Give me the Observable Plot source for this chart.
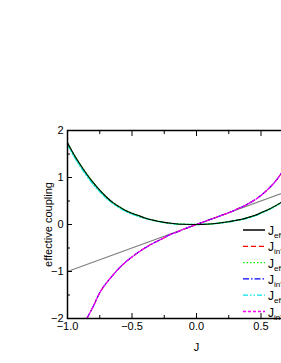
<!DOCTYPE html>
<html><head><meta charset="utf-8">
<script src="https://cdn.jsdelivr.net/npm/d3@7"></script>
<script src="https://cdn.jsdelivr.net/npm/@observablehq/plot@0.6"></script>
<style>
html,body{margin:0;padding:0;background:#fff;overflow:hidden;width:281px;height:363px;}
#wrap{position:relative;width:281px;height:363px;overflow:hidden;font-family:"Liberation Sans",Arial,sans-serif;}
#legend{position:absolute;left:0;top:0;width:281px;height:363px;pointer-events:none;}
</style></head>
<body><div id="wrap"><svg id="legend"></svg></div>
<script>
// ---- data ----
const J = [-1,-0.95,-0.9,-0.85,-0.8,-0.75,-0.7,-0.65,-0.6,-0.55,-0.5,-0.45,-0.4,-0.35,-0.3,-0.25,-0.2,-0.15,-0.1,-0.05,0,0.05,0.1,0.15,0.2,0.25,0.3,0.35,0.4,0.45,0.5,0.55,0.6,0.65,0.7];
const Jeff = [1.74,1.49,1.27,1.07,0.89,0.73,0.59,0.47,0.38,0.30,0.24,0.19,0.14,0.10,0.07,0.045,0.025,0.012,0.005,0.001,0,0.002,0.01,0.022,0.04,0.06,0.085,0.11,0.15,0.19,0.25,0.31,0.38,0.46,0.55];
const JeffC = [1.71,1.45,1.23,1.03,0.85,0.70,0.56,0.45,0.36,0.28,0.22,0.175,0.13,0.095,0.065,0.04,0.022,0.01,0.004,0.001,0,0.002,0.009,0.02,0.037,0.056,0.08,0.105,0.14,0.18,0.24,0.30,0.37,0.45,0.54];
const Jin = [null,null,null,-2.0,-1.74,-1.45,-1.25,-1.085,-0.93,-0.80,-0.69,-0.59,-0.50,-0.42,-0.35,-0.28,-0.21,-0.16,-0.10,-0.05,0,0.05,0.1,0.15,0.2,0.25,0.31,0.37,0.44,0.52,0.62,0.74,0.88,1.06,1.28];
const refJ = [-1, 1];
const refY = [-1, 1];
const xTicks = [-1, -0.5, 0, 0.5, 1];
const xMinor = [-0.75, -0.25, 0.25, 0.75];
const yTicks = [-2, -1, 0, 1, 2];
const yMinor = [-1.5, -0.5, 0.5, 1.5];
const seriesNames = ["eff", "in'", "eff", "in'", "eff", "in'"];
const seriesColors = ["#000000", "#ff0000", "#00ee00", "#0000ff", "#00e5e5", "#ff00ff"];
const seriesDash = [null, "5,3", "1.5,2", "6,2,1.5,2", "5,2,1.5,2,1.5,2", "3,2"];

const effData = J.map((j, i) => ({J: j, v: Jeff[i]}));
const effCData = J.map((j, i) => ({J: j, v: JeffC[i]}));
const inData = J.map((j, i) => ({J: j, v: Jin[i]})).filter(d => d.v !== null);
const refData = refJ.map((j, i) => ({J: j, v: refY[i]}));

const font = '"Liberation Sans", Arial, sans-serif';
const chart = Plot.plot({
  width: 345, height: 363,
  marginLeft: 67, marginRight: 20, marginTop: 130, marginBottom: 45,
  style: {fontFamily: font, fontSize: "11px", color: "#000", background: "transparent", overflow: "visible", maxWidth: "none"},
  x: {domain: [-1, 1]},
  y: {domain: [-2, 2]},
  marks: [
    Plot.line(refData, {x: "J", y: "v", stroke: "#808080", strokeWidth: 1.2, clip: true}),
    Plot.line(effCData, {x: "J", y: "v", stroke: seriesColors[4], strokeWidth: 1.4, strokeDasharray: seriesDash[4], curve: "monotone-x", clip: true}),
    Plot.line(effData, {x: "J", y: "v", stroke: seriesColors[2], strokeWidth: 1.3, strokeDasharray: seriesDash[2], curve: "monotone-x", clip: true}),
    Plot.line(inData, {x: "J", y: "v", stroke: seriesColors[1], strokeWidth: 1.1, strokeDasharray: seriesDash[1], curve: "monotone-x", clip: true}),
    Plot.line(inData, {x: "J", y: "v", stroke: seriesColors[3], strokeWidth: 1.1, strokeDasharray: seriesDash[3], curve: "monotone-x", clip: true}),
    Plot.line(inData, {x: "J", y: "v", stroke: seriesColors[5], strokeWidth: 1.2, strokeDasharray: seriesDash[5], curve: "monotone-x", clip: true}),
    Plot.line(effData, {x: "J", y: "v", stroke: seriesColors[0], strokeWidth: 1.1, curve: "monotone-x", clip: true}),
    Plot.axisX({ticks: xTicks, tickSize: -5, tickPadding: 9, tickFormat: d3.format(".1f"), label: "J", labelAnchor: "center", labelOffset: 32, labelArrow: "none"}),
    Plot.axisX({ticks: xMinor, tickSize: -3, tickFormat: () => "", label: null}),
    Plot.axisX({anchor: "top", ticks: xTicks, tickSize: -5, tickFormat: () => "", label: null}),
    Plot.axisX({anchor: "top", ticks: xMinor, tickSize: -3, tickFormat: () => "", label: null}),
    Plot.axisY({ticks: yTicks, tickSize: -5, tickPadding: 9, tickFormat: d3.format("d"), label: "effective coupling", labelAnchor: "center", labelOffset: 23, labelArrow: "none"}),
    Plot.axisY({ticks: yMinor, tickSize: -3, tickFormat: () => "", label: null}),
    Plot.frame({stroke: "#000", strokeWidth: 1.5})
  ]
});
chart.style.maxWidth = "none";
chart.style.width = "345px";
chart.style.height = "363px";
const wrap = document.getElementById("wrap");
wrap.insertBefore(chart, wrap.firstChild);
chart.style.position = "absolute";
chart.style.left = "0px";
chart.style.top = "0px";

// ---- legend ----
const lg = d3.select("#legend");
const y0 = 230, dy = 16.3;
seriesNames.forEach((name, i) => {
  const y = y0 + i * dy;
  lg.append("line").attr("x1", 243).attr("x2", 265).attr("y1", y).attr("y2", y)
    .attr("stroke", seriesColors[i]).attr("stroke-width", i === 0 ? 1.5 : 1.3)
    .attr("stroke-dasharray", seriesDash[i]);
  const t = lg.append("text").attr("x", 268).attr("y", y + 5)
    .attr("font-family", font).attr("font-size", 12).attr("fill", "#000");
  t.append("tspan").text("J");
  t.append("tspan").attr("font-size", 8).attr("dy", 3).text(name);
});
</script>
</body></html>
